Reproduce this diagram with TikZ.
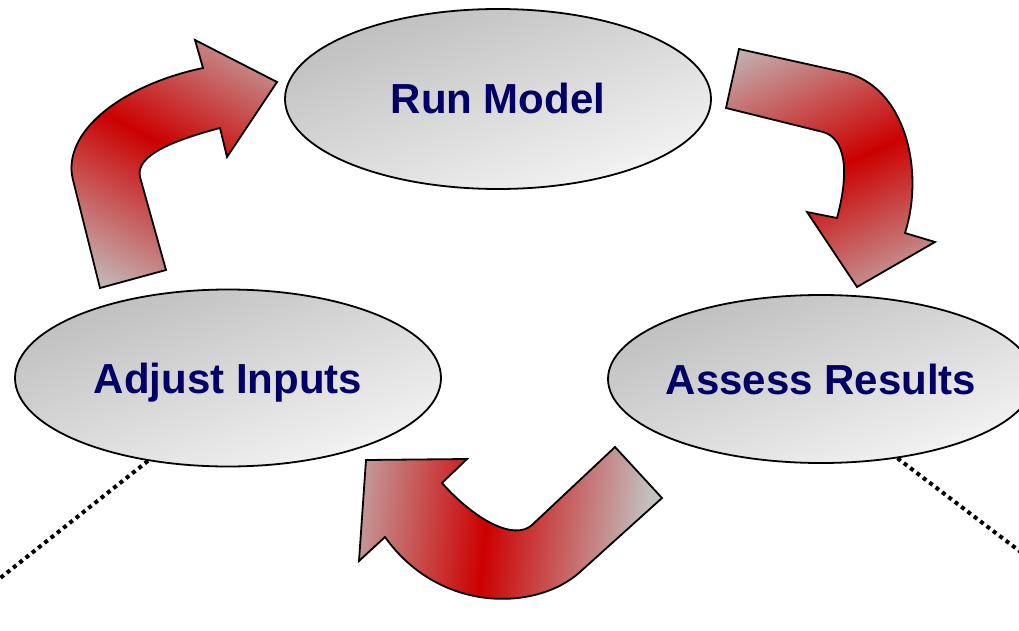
\documentclass[tikz,border=0pt]{standalone}
\usepackage{fontspec}
\setmainfont{Liberation Sans}
\usetikzlibrary{shapes.geometric}
\definecolor{navytext}{RGB}{0,0,102}
\definecolor{arrred}{RGB}{204,0,0}
\definecolor{arrgray}{RGB}{194,192,192}
\definecolor{ovaldark}{RGB}{190,190,190}
\definecolor{ovallight}{RGB}{244,244,244}
\pgfdeclarehorizontalshading{redband}{100bp}{color(0bp)=(arrgray); color(31bp)=(arrgray); color(50bp)=(arrred); color(69bp)=(arrgray); color(100bp)=(arrgray)}
\begin{document}
\begin{tikzpicture}[x=1pt,y=-1pt,
  oval/.style={ellipse, draw=black, line width=1.8pt, minimum width=426pt, inner sep=0pt,
    top color=ovaldark, bottom color=ovallight, shading angle=20,
    font=\fontsize{42}{48}\selectfont\bfseries, text=navytext, text height=30pt, text depth=0pt},
  arrowbase/.style={draw=black, line width=1.8pt, line join=miter},
  dotline/.style={line width=4pt, dash pattern=on 4pt off 4pt}]
\useasboundingbox (0,0) rectangle (1019,631);

% ovals
\node[oval, minimum height=180pt] (run) at (498,99) {\makebox[0pt]{Run Model}};
\node[oval, minimum height=177pt] (adjust) at (228,378) {\makebox[0pt]{Adjust Inputs}};
\node[oval, minimum height=168pt] (assess) at (821,379) {\makebox[0pt]{Assess Results}};

% dotted leaders
\coordinate (leftend) at (-6,583);
\coordinate (rightend) at (1026,556);
\draw[dotline] (adjust.226) -- (leftend);
\draw[dotline] (assess.314) -- (rightend);

% arrow: Adjust Inputs -> Run Model
\draw[arrowbase, path picture={\shade[shading=redband, shading angle=-118] (-77,-81) rectangle (343,339);}]
  (100,288) -- (73,180) .. controls (61,132) and (122,85) .. (203,68)
  -- (195,40) -- (277,82) -- (227,157) -- (220,128)
  .. controls (175,140) and (135,155) .. (140,177) -- (166,270) -- cycle;

% arrow: Run Model -> Assess Results
\draw[arrowbase, path picture={\shade[shading=redband, shading angle=-65] (665,-60) rectangle (1085,360);}]
  (739,49) -- (843,72) .. controls (905,85) and (925,170) .. (905,233)
  -- (935,242) -- (857,287) -- (807,212) -- (837,218)
  .. controls (850,170) and (845,138) .. (823,132) -- (726,108) -- cycle;

% arrow: Assess Results -> Adjust Inputs
\draw[arrowbase, path picture={\shade[shading=redband, shading angle=-6] (272,355) rectangle (692,775);}]
  (615,447) -- (662,498) -- (580,572) .. controls (537,611) and (440,614) .. (385,537)
  -- (359,561) -- (366,460) -- (467,459) -- (442,483)
  .. controls (475,520) and (514,541) .. (532,525) -- cycle;
\end{tikzpicture}
\end{document}
